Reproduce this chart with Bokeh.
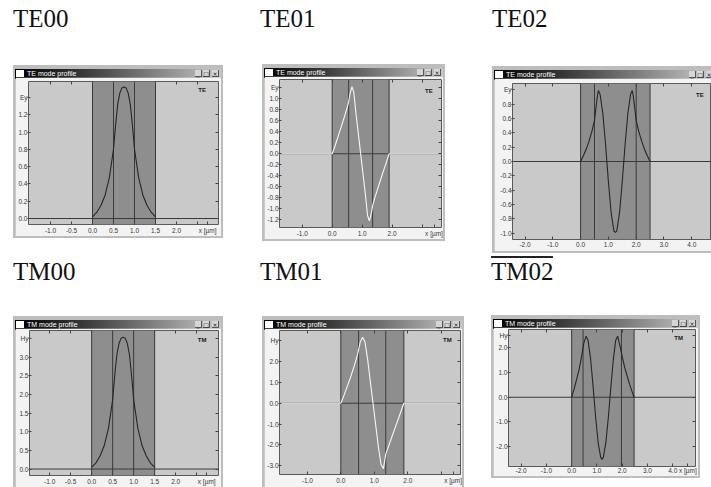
from bokeh.plotting import figure
from bokeh.layouts import row, column
from bokeh.models import Div, Spacer, Span, BoxAnnotation, Label, FixedTicker, LinearAxis, Range1d
from bokeh.embed import file_html
from bokeh.resources import INLINE

# ---------------- data ----------------
te00_x = [0.0, 0.1, 0.2, 0.3, 0.4, 0.5, 0.55, 0.6, 0.65, 0.7, 0.75, 0.8, 0.85, 0.9, 0.95, 1.0, 1.1, 1.2, 1.3, 1.4, 1.5]
te00_y = [0.02, 0.07, 0.15, 0.27, 0.47, 0.80, 1.08, 1.32, 1.45, 1.51, 1.52, 1.51, 1.45, 1.32, 1.08, 0.80, 0.47, 0.27, 0.15, 0.07, 0.02]

te01_x = [-2.0, 0.0, 0.1, 0.2, 0.3, 0.4, 0.5, 0.55, 0.6, 0.66, 0.72, 0.8, 0.88, 0.95, 1.02, 1.1, 1.18, 1.24, 1.3, 1.36, 1.4, 1.5, 1.6, 1.7, 1.8, 1.9, 4.0]
te01_y = [0.0, 0.0, 0.15, 0.32, 0.49, 0.66, 0.84, 0.95, 1.1, 1.22, 1.12, 0.7, 0.33, 0.0, -0.33, -0.7, -1.12, -1.22, -1.1, -0.92, -0.84, -0.67, -0.5, -0.33, -0.17, 0.0, 0.0]

te02_x = [0.0, 0.1, 0.2, 0.3, 0.4, 0.5, 0.55, 0.6, 0.64, 0.7, 0.8, 0.9, 1.0, 1.1, 1.2, 1.25, 1.3, 1.4, 1.5, 1.6, 1.7, 1.8, 1.86, 1.9, 1.95, 2.0, 2.1, 2.2, 2.3, 2.4, 2.5]
te02_y = [0.0, 0.08, 0.17, 0.28, 0.41, 0.57, 0.74, 0.9, 0.99, 0.94, 0.67, 0.23, -0.28, -0.72, -0.97, -0.99, -0.97, -0.72, -0.28, 0.23, 0.67, 0.94, 0.99, 0.9, 0.74, 0.57, 0.41, 0.28, 0.17, 0.08, 0.0]

tm00_x = [0.0, 0.1, 0.2, 0.3, 0.4, 0.5, 0.55, 0.6, 0.65, 0.7, 0.75, 0.8, 0.85, 0.9, 0.95, 1.0, 1.1, 1.2, 1.3, 1.4, 1.5]
tm00_y = [0.05, 0.16, 0.35, 0.63, 1.09, 1.86, 2.51, 3.06, 3.36, 3.50, 3.53, 3.50, 3.36, 3.06, 2.51, 1.86, 1.09, 0.63, 0.35, 0.16, 0.05]

tm01_x = [-2.0, 0.0, 0.1, 0.2, 0.3, 0.4, 0.5, 0.58, 0.65, 0.72, 0.8, 0.88, 0.96, 1.04, 1.12, 1.2, 1.27, 1.34, 1.4, 1.5, 1.6, 1.7, 1.8, 1.88, 4.0]
tm01_y = [0.0, 0.0, 0.4, 0.85, 1.3, 1.8, 2.35, 2.95, 3.17, 2.95, 2.1, 1.05, 0.0, -1.05, -2.1, -2.95, -3.15, -2.45, -2.18, -1.72, -1.27, -0.82, -0.36, 0.0, 0.0]

tm02_x = [0.0, 0.1, 0.2, 0.3, 0.4, 0.48, 0.57, 0.65, 0.75, 0.85, 0.95, 1.05, 1.15, 1.2, 1.25, 1.35, 1.45, 1.55, 1.65, 1.74, 1.82, 1.91, 2.0, 2.1, 2.2, 2.3, 2.4, 2.47]
tm02_y = [0.0, 0.35, 0.75, 1.15, 1.7, 2.2, 2.48, 2.3, 1.55, 0.41, -0.83, -1.86, -2.44, -2.53, -2.44, -1.86, -0.83, 0.41, 1.55, 2.3, 2.48, 2.1, 1.65, 1.2, 0.85, 0.5, 0.2, 0.0]

# layer boundaries of the waveguide (x, µm)
te00_layers = [0.0, 0.5, 1.0, 1.5]
te01_layers = [0.0, 0.55, 1.35, 1.9]
te02_layers = [0.0, 0.5, 2.0, 2.5]
tm00_layers = [0.0, 0.5, 1.0, 1.5]
tm01_layers = [0.0, 0.53, 1.34, 1.88]
tm02_layers = [0.0, 0.45, 1.97, 2.47]

# ticks and tick labels
te00_xticks = [-1.0, -0.5, 0.0, 0.5, 1.0, 1.5, 2.0, 2.5, 2.74]
te00_xlabels = ["-1.0", "-0.5", "0.0", "0.5", "1.0", "1.5", "2.0", "", "x [µm]"]
te00_yticks = [0.0, 0.2, 0.4, 0.6, 0.8, 1.0, 1.2, 1.4]
te00_ylabels = ["0.0", "0.2", "0.4", "0.6", "0.8", "1.0", "1.2", "Ey"]

te01_xticks = [-1.0, 0.0, 1.0, 2.0, 3.0, 3.4]
te01_xlabels = ["-1.0", "0.0", "1.0", "2.0", "", "x [µm]"]
te01_yticks = [-1.2, -1.0, -0.8, -0.6, -0.4, -0.2, 0.0, 0.2, 0.4, 0.6, 0.8, 1.0, 1.2]
te01_ylabels = ["-1.2", "-1.0", "-0.8", "-0.6", "-0.4", "-0.2", "0.0", "0.2", "0.4", "0.6", "0.8", "1.0", "Ey"]

te02_xticks = [-2.0, -1.0, 0.0, 1.0, 2.0, 3.0, 4.0]
te02_xlabels = ["-2.0", "-1.0", "0.0", "1.0", "2.0", "3.0", "4.0"]
te02_yticks = [-1.0, -0.8, -0.6, -0.4, -0.2, 0.0, 0.2, 0.4, 0.6, 0.8, 1.0]
te02_ylabels = ["-1.0", "-0.8", "-0.6", "-0.4", "-0.2", "0.0", "0.2", "0.4", "0.6", "0.8", "Ey"]

tm00_xticks = [-1.0, -0.5, 0.0, 0.5, 1.0, 1.5, 2.0, 2.5, 2.74]
tm00_xlabels = ["-1.0", "-0.5", "0.0", "0.5", "1.0", "1.5", "2.0", "", "x [µm]"]
tm00_yticks = [0.0, 0.5, 1.0, 1.5, 2.0, 2.5, 3.0, 3.5]
tm00_ylabels = ["0.0", "0.5", "1.0", "1.5", "2.0", "2.5", "3.0", "Hy"]

tm01_xticks = [-1.0, 0.0, 1.0, 2.0, 3.0, 3.35]
tm01_xlabels = ["-1.0", "0.0", "1.0", "2.0", "", "x [µm]"]
tm01_yticks = [-3.0, -2.0, -1.0, 0.0, 1.0, 2.0, 3.0]
tm01_ylabels = ["-3.0", "-2.0", "-1.0", "0.0", "1.0", "2.0", "Hy"]

tm02_xticks = [-2.0, -1.0, 0.0, 1.0, 2.0, 3.0, 4.0, 4.6]
tm02_xlabels = ["-2.0", "-1.0", "0.0", "1.0", "2.0", "3.0", "4.0", "x [µm]"]
tm02_yticks = [-2.0, -1.0, 0.0, 1.0, 2.0, 2.5]
tm02_ylabels = ["-2.0", "-1.0", "0.0", "1.0", "2.0", "Hy"]

window_titles = {"TE": "TE mode profile", "TM": "TM mode profile"}

# ---------------- style / geometry ----------------
PLOT_BG = "#c9c9c9"
BAND = "#8e8e8e"
BODY_BG = "#f3f3f3"
FRAME = "#bdbdbd"
LINE = "#3a3a3a"
TICK = "#444444"
LABEL = "#383838"
OUTLINE = "#5a5a5a"
TICK_FONT_SIZE = "6.5px"

CFG = {
    "TE00": dict(H=173, fw=206, fh=159, rframe=True, bframe=True, shift=0, mb=(13, 3, 4, 12), std=2,
                 xr=(-1.524, 3.0), yr=(-0.069, 1.584), tag="TE", tag_xy=(2.61, 1.48), curve="#262626", raxis=True),
    "TE01": dict(H=177, fw=179, fh=163, rframe=True, bframe=True, shift=0, mb=(13, 2, 3, 11), std=2,
                 xr=(-1.76, 3.65), yr=(-1.34, 1.35), tag="TE", tag_xy=(3.23, 1.15), curve="#f6f6f6", raxis=True),
    "TE02": dict(H=187, fw=217, fh=173, rframe=False, bframe=True, shift=-4, mb=(18, 0, 5, 12), std=2,
                 xr=(-2.45, 4.71), yr=(-1.088, 1.088), tag="TE", tag_xy=(4.29, 0.93), curve="#262626", raxis=False),
    "TM00": dict(H=171, fw=206, fh=159, rframe=True, bframe=False, shift=0, mb=(14, 3, 2, 11), std=2,
                 xr=(-1.48, 3.02), yr=(-0.173, 3.71), tag="TM", tag_xy=(2.63, 3.45), curve="#262626", raxis=True),
    "TM01": dict(H=171, fw=198, fh=159, rframe=True, bframe=False, shift=0, mb=(13, 2, 2, 13), std=2,
                 xr=(-1.83, 3.57), yr=(-3.43, 3.5), tag="TM", tag_xy=(3.18, 3.04), curve="#f6f6f6", raxis=True),
    "TM02": dict(H=163, fw=205, fh=149, rframe=True, bframe=True, shift=0, mb=(14, 3, 2, 8), std=0,
                 xr=(-2.5, 4.9), yr=(-2.81, 2.75), tag="TM", tag_xy=(4.23, 2.4), curve="#262626", raxis=True),
}


def style_axis(ax, ticks, labels):
    ax.ticker = FixedTicker(ticks=ticks)
    ax.major_label_overrides = {t: l for t, l in zip(ticks, labels)}
    ax.axis_line_color = None
    ax.minor_tick_line_color = None
    ax.major_tick_line_color = TICK
    ax.major_label_text_font = "Liberation Sans"
    ax.major_label_text_font_size = TICK_FONT_SIZE
    ax.major_label_text_color = LABEL


def tick_only_axis(ticks):
    return LinearAxis(ticker=FixedTicker(ticks=ticks), axis_line_color=None,
                      minor_tick_line_color=None, major_tick_line_color=TICK,
                      major_tick_in=3, major_tick_out=0, major_label_standoff=0,
                      major_label_text_font_size="1px", major_label_text_alpha=0.0)


def build_plot(cfg, xs, ys, layers, xt, xl, yt, yl):
    p = figure(width=cfg["fw"], height=cfg["fh"],
               x_range=Range1d(*cfg["xr"]), y_range=Range1d(*cfg["yr"]),
               output_backend="svg", toolbar_location=None,
               min_border_left=cfg["mb"][0], min_border_right=cfg["mb"][1],
               min_border_top=cfg["mb"][2], min_border_bottom=cfg["mb"][3],
               background_fill_color=PLOT_BG, border_fill_color=BODY_BG,
               outline_line_color=OUTLINE, margin=0)
    p.xgrid.visible = False
    p.ygrid.visible = False
    p.add_layout(BoxAnnotation(left=layers[0], right=layers[-1], fill_color=BAND, fill_alpha=1.0,
                               line_color=None, level="underlay"))
    for v in layers:
        p.add_layout(Span(location=v, dimension="height", line_color=LINE, line_width=1, level="underlay"))
    p.add_layout(Span(location=0, dimension="width", line_color=LINE, line_width=1, level="underlay"))
    p.line(xs, ys, line_color=cfg["curve"], line_width=1.1)
    p.add_layout(Label(x=cfg["tag_xy"][0], y=cfg["tag_xy"][1], text=cfg["tag"],
                       text_font="Liberation Sans", text_font_size="6px", text_font_style="bold",
                       text_color="#1a1a1a", text_align="center", text_baseline="middle"))
    bx = p.xaxis[0]
    ly = p.yaxis[0]
    style_axis(bx, xt, xl)
    style_axis(ly, yt, yl)
    bx.major_tick_in = 3
    bx.major_tick_out = 0
    bx.major_label_standoff = cfg["std"]
    ly.major_tick_in = 2
    ly.major_tick_out = 1
    ly.major_label_standoff = 0
    top_ticks = [t for t, l in zip(xt, xl) if not l.startswith("x")]
    p.add_layout(tick_only_axis(top_ticks), "above")
    if cfg["raxis"]:
        p.add_layout(tick_only_axis(yt), "right")
    return p


def titlebar_html(title, w, shift):
    def btn(r, ch):
        return ('<div style="position:absolute;top:1px;right:%dpx;width:7px;height:7px;'
                'background:#d6d6d6;border-right:1px solid #555;border-bottom:1px solid #555;'
                "font-family:'DejaVu Sans';font-size:6px;line-height:7px;color:#111;"
                'text-align:center;">%s</div>' % (r, ch))
    return ('<div style="position:relative;width:%dpx;height:10px;overflow:hidden;'
            'background:linear-gradient(to right,#000000 0%%,#3c3c3c 35%%,#c6c6c6 100%%);">'
            '<div style="position:absolute;left:1px;top:1px;width:8px;height:7px;background:#ffffff;"></div>'
            "<div style=\"position:absolute;left:12px;top:0px;font-family:'Liberation Sans';font-size:7px;"
            'line-height:10px;color:#ffffff;white-space:nowrap;">%s</div>'
            '%s%s%s</div>') % (w, title, btn(shift + 19, "_"), btn(shift + 11, "□"), btn(shift + 2, "×"))


def fspacer(w, h):
    return Spacer(width=w, height=h, margin=0, styles={"background-color": FRAME})


def make_window(name, xs, ys, layers, xt, xl, yt, yl):
    cfg = CFG[name]
    plot = build_plot(cfg, xs, ys, layers, xt, xl, yt, yl)
    w = cfg["fw"]
    bar = Div(text=titlebar_html(window_titles[name[:2]], w, cfg["shift"]), width=w, height=10, margin=0)
    kids = [fspacer(w, 2), bar, plot]
    if cfg["bframe"]:
        kids.append(fspacer(w, 2))
    inner = column(*kids, spacing=0)
    parts = [fspacer(2, cfg["H"]), inner]
    if cfg["rframe"]:
        parts.append(fspacer(2, cfg["H"]))
    return row(*parts, spacing=0, styles={"background-color": FRAME})


def name_div(name, lh):
    return Div(text=("<div style=\"font-family:'Liberation Serif';font-size:25px;line-height:%dpx;"
                     "color:#111111;white-space:nowrap;\">%s</div>") % (lh, name),
               width=80, height=lh, margin=0)


def sp(w, h):
    return Spacer(width=w, height=h, margin=0)


win_te00 = make_window("TE00", te00_x, te00_y, te00_layers, te00_xticks, te00_xlabels, te00_yticks, te00_ylabels)
win_te01 = make_window("TE01", te01_x, te01_y, te01_layers, te01_xticks, te01_xlabels, te01_yticks, te01_ylabels)
win_te02 = make_window("TE02", te02_x, te02_y, te02_layers, te02_xticks, te02_xlabels, te02_yticks, te02_ylabels)
win_tm00 = make_window("TM00", tm00_x, tm00_y, tm00_layers, tm00_xticks, tm00_xlabels, tm00_yticks, tm00_ylabels)
win_tm01 = make_window("TM01", tm01_x, tm01_y, tm01_layers, tm01_xticks, tm01_xlabels, tm01_yticks, tm01_ylabels)
win_tm02 = make_window("TM02", tm02_x, tm02_y, tm02_layers, tm02_xticks, tm02_xlabels, tm02_yticks, tm02_ylabels)

col_te00 = column(sp(1, 4), name_div("TE00", 30), sp(1, 31), win_te00, spacing=0)
col_te01 = column(sp(1, 4), name_div("TE01", 30), sp(1, 30), row(sp(2, 177), win_te01, spacing=0), spacing=0)
col_te02 = column(sp(1, 4), name_div("TE02", 30), sp(1, 32), win_te02, spacing=0)
top_row = row(sp(13, 1), col_te00, sp(37, 1), col_te01, sp(47, 1), col_te02, spacing=0)

overline = Div(text="", width=62, height=2, margin=0, styles={"background-color": "#222222"})
col_tm00 = column(sp(1, 4), name_div("TM00", 30), sp(1, 29), win_tm00, spacing=0)
col_tm01 = column(sp(1, 4), name_div("TM01", 30), sp(1, 29), row(sp(2, 171), win_tm01, spacing=0), spacing=0)
col_tm02 = column(sp(1, 3), overline, name_div("TM02", 27), sp(1, 30), win_tm02, spacing=0)
bottom_row = row(sp(13, 1), col_tm00, sp(37, 1), col_tm01, sp(27, 1), col_tm02, spacing=0)

root = column(top_row, bottom_row, spacing=0)

open("out.html", "w").write(file_html(root, INLINE, title="Mode profiles"))
